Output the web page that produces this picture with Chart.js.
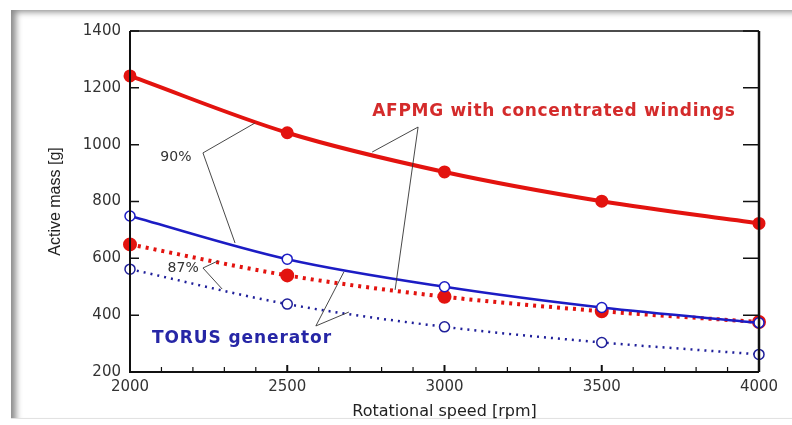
<!DOCTYPE html>
<html>
<head>
<meta charset="utf-8">
<script src="https://cdn.jsdelivr.net/npm/chart.js@4"></script>
<style>
  html, body { margin: 0; padding: 0; background: #fff; }
  #wrap { position: relative; width: 792px; height: 425px; overflow: hidden; }
  #frame {
    position: absolute; left: 11px; top: 10px; right: -10px; bottom: 6px;
    box-shadow: inset 7px 4px 6px -2px rgba(0,0,0,0.45);
    border-bottom: 1px solid #e2e2e2;
  }
  #chart { position: absolute; left: 0; top: 0; }
</style>
</head>
<body>
<div id="wrap">
  <div id="frame"></div>
  <canvas id="chart" width="792" height="425"></canvas>
</div>
<script>
// rotational speed [rpm]
const speeds = [2000, 2500, 3000, 3500, 4000];

// active mass [g]
const afpmg90 = [1242, 1042, 904, 801, 723];
const torus90 = [749, 597, 500, 427, 373];
const afpmg87 = [649, 540, 465, 414, 376];
const torus87 = [562, 439, 359, 304, 262];

const yTicks = [200, 400, 600, 800, 1000, 1200, 1400];
const xTicks = [2000, 2500, 3000, 3500, 4000];

const RED = '#e3130f';
const BLUE = '#1c1cc4';
const DARKBLUE = '#1f1f9a';

function pts(vals) {
    return speeds.map((s, i) => ({ x: s, y: vals[i] }));
}

// labels with leader lines, in data units
const notes = [
    { text: '90%', at: [2146, 957], font: '14px "DejaVu Sans"', color: '#333', spacing: '0px',
      vertex: [2232, 971], ends: [[2397, 1076], [2334, 654]] },
    { text: '87%', at: [2169, 566], font: '14px "DejaVu Sans"', color: '#333', spacing: '0px',
      vertex: [2232, 566], ends: [[2280, 591], [2293, 492]] },
    { text: 'AFPMG with concentrated windings', at: [3348, 1115], font: 'bold 17px "DejaVu Sans"', color: '#d42b2b',
      spacing: '0.7px', vertex: [2916, 1062], ends: [[2770, 974], [2843, 489]] },
    { text: 'TORUS generator', at: [2356, 316], font: 'bold 17px "DejaVu Sans"', color: '#2626a6',
      spacing: '0.9px', vertex: [2591, 362], ends: [[2680, 552], [2696, 411]] }
];

const boxPlugin = {
    id: 'box',
    afterDatasetsDraw(chart) {
        const ctx = chart.ctx;
        const a = chart.chartArea;
        const xs = chart.scales.x, ys = chart.scales.y;
        ctx.save();
        ctx.strokeStyle = '#111';
        // frame
        ctx.lineWidth = 1.5;
        ctx.beginPath();
        ctx.moveTo(a.left, a.top); ctx.lineTo(a.right, a.top);
        ctx.stroke();
        ctx.lineWidth = 2.5;
        ctx.beginPath();
        ctx.moveTo(a.right, a.top); ctx.lineTo(a.right, a.bottom);
        ctx.stroke();
        ctx.lineWidth = 2;
        ctx.beginPath();
        ctx.moveTo(a.left, a.top); ctx.lineTo(a.left, a.bottom); ctx.lineTo(a.right, a.bottom);
        ctx.stroke();
        // inward ticks
        ctx.lineWidth = 1.5;
        yTicks.forEach(v => {
            const y = ys.getPixelForValue(v);
            ctx.beginPath();
            ctx.moveTo(a.left, y); ctx.lineTo(a.left + 9, y);
            ctx.moveTo(a.right, y); ctx.lineTo(a.right - 16, y);
            ctx.stroke();
        });
        for (let v = 2100; v < 4000; v += 100) {
            const x = xs.getPixelForValue(v);
            const len = v % 500 === 0 ? 7 : 5;
            ctx.lineWidth = v % 500 === 0 ? 2 : 1.2;
            ctx.beginPath();
            ctx.moveTo(x, a.bottom); ctx.lineTo(x, a.bottom - len);
            ctx.stroke();
        }
        // annotations
        notes.forEach(n => {
            ctx.strokeStyle = '#333';
            ctx.lineWidth = 0.9;
            const vx = xs.getPixelForValue(n.vertex[0]), vy = ys.getPixelForValue(n.vertex[1]);
            n.ends.forEach(e => {
                ctx.beginPath();
                ctx.moveTo(vx, vy);
                ctx.lineTo(xs.getPixelForValue(e[0]), ys.getPixelForValue(e[1]));
                ctx.stroke();
            });
            ctx.fillStyle = n.color;
            ctx.font = n.font;
            ctx.letterSpacing = n.spacing;
            ctx.textAlign = 'center';
            ctx.textBaseline = 'middle';
            ctx.fillText(n.text, xs.getPixelForValue(n.at[0]), ys.getPixelForValue(n.at[1]));
        });
        ctx.restore();
    }
};

new Chart(document.getElementById('chart'), {
    type: 'line',
    data: {
        datasets: [
            { label: 'AFPMG 90%', data: pts(afpmg90), borderColor: RED, backgroundColor: RED,
              borderWidth: 4, pointRadius: 4.5, pointBackgroundColor: RED, pointBorderColor: RED,
              cubicInterpolationMode: 'monotone', clip: false },
            { label: 'TORUS 90%', data: pts(torus90), borderColor: BLUE, backgroundColor: '#fff',
              borderWidth: 2.5, pointRadius: 5, pointBackgroundColor: '#fff', pointBorderColor: BLUE,
              pointBorderWidth: 1.5, cubicInterpolationMode: 'monotone', clip: false },
            { label: 'AFPMG 87%', data: pts(afpmg87), borderColor: RED, backgroundColor: RED,
              borderWidth: 4, borderDash: [3, 5], pointRadius: 5, pointBackgroundColor: RED,
              pointBorderColor: RED, cubicInterpolationMode: 'monotone', clip: false },
            { label: 'TORUS 87%', data: pts(torus87), borderColor: DARKBLUE, backgroundColor: '#fff',
              borderWidth: 2.5, borderDash: [2, 5], pointRadius: 5, pointBackgroundColor: '#fff',
              pointBorderColor: DARKBLUE, pointBorderWidth: 1.5, cubicInterpolationMode: 'monotone', clip: false }
        ]
    },
    options: {
        responsive: false,
        animation: false,
        layout: { padding: { left: 0, top: 31, right: 33, bottom: 0 } },
        plugins: { legend: { display: false }, tooltip: { enabled: false } },
        scales: {
            x: {
                type: 'linear', min: 2000, max: 4000,
                afterBuildTicks: s => { s.ticks = xTicks.map(v => ({ value: v })); },
                afterFit: s => { s.height = 53; },
                grid: { display: false, drawTicks: false },
                border: { display: false },
                ticks: { color: '#333', font: { family: 'DejaVu Sans', size: 15 }, padding: 6, maxRotation: 0,
                         callback: v => String(v) },
                title: { display: true, text: 'Rotational speed [rpm]', color: '#222',
                         font: { family: 'DejaVu Sans', size: 16 }, padding: { top: 0, bottom: 4 } }
            },
            y: {
                type: 'linear', min: 200, max: 1400,
                afterBuildTicks: s => { s.ticks = yTicks.map(v => ({ value: v })); },
                afterFit: s => { s.width = 130; },
                grid: { display: false, drawTicks: false },
                border: { display: false },
                ticks: { color: '#333', font: { family: 'DejaVu Sans', size: 15 }, padding: 9,
                         callback: v => String(v) },
                title: { display: true, text: 'Active mass [g]', color: '#222',
                         font: { family: 'Liberation Sans', size: 16 }, padding: { top: 46, bottom: 0 } }
            }
        }
    },
    plugins: [boxPlugin]
});
</script>
</body>
</html>
